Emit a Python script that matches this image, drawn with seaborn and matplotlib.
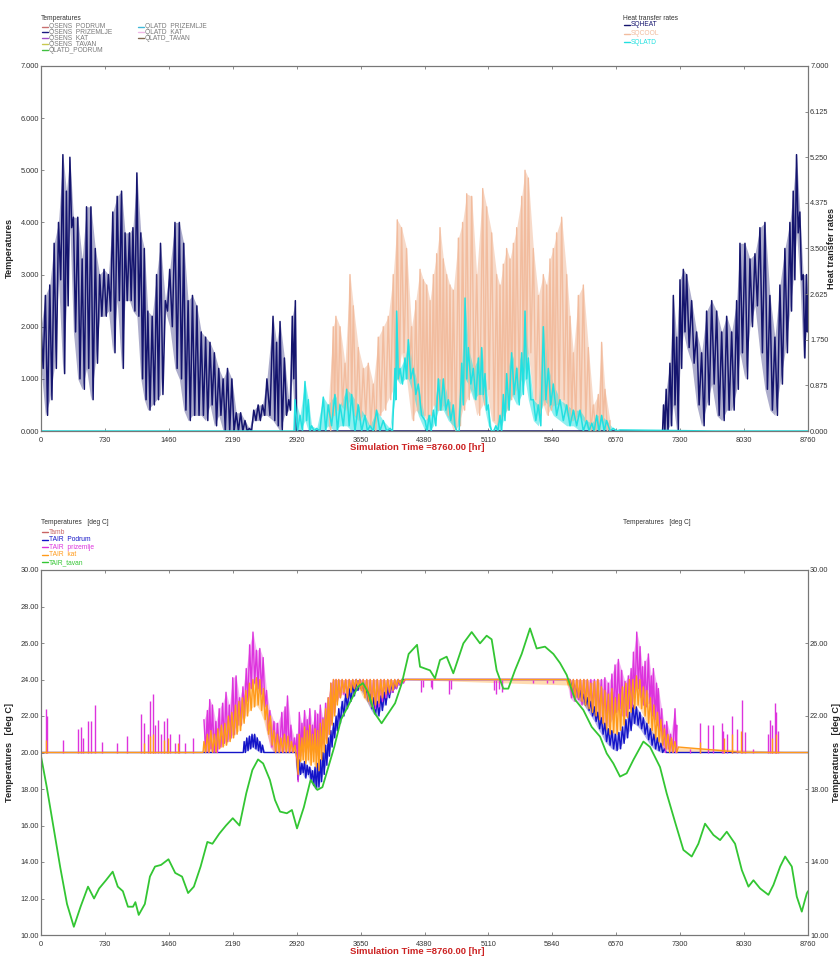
import numpy as np
import matplotlib
matplotlib.use("Agg")
import matplotlib.pyplot as plt
from matplotlib.lines import Line2D
import seaborn as sns

# ------------------------------------------------------------------ data
x_ticks = [0, 730, 1460, 2190, 2920, 3650, 4380, 5110, 5840, 6570, 7300, 8030, 8760]
top_left_ticks = [0, 1, 2, 3, 4, 5, 6, 7]
top_right_ticks = [0, 0.875, 1.75, 2.625, 3.5, 4.375, 5.25, 6.125, 7.0]
bot_left_ticks = [10, 12, 14, 16, 18, 20, 22, 24, 26, 28, 30]
bot_right_ticks = [10, 14, 18, 22, 26, 30]

# SQHEAT: peak hours, peak values, following trough values
heat_h = [0, 50, 100, 150, 200, 250, 290, 330, 370, 420, 470, 520, 570, 620, 670, 720, 770, 820,
          870, 920, 960, 1010, 1050, 1095, 1140, 1180, 1220, 1270, 1320, 1365, 1420, 1470, 1530,
          1580, 1630, 1680, 1730, 1780, 1830, 1880, 1930, 1980, 2030, 2080, 2130, 2180, 2230, 2280,
          2330, 2380, 2430, 2480, 2530, 2580, 2650, 2690, 2730, 2780, 2830, 2870, 2905,
          2930, 7060,
          7088, 7110, 7140, 7183, 7222, 7260, 7298, 7336, 7374, 7431, 7488, 7545, 7602, 7660, 7717,
          7774, 7831, 7888, 7945, 7983, 8040, 8097, 8154, 8211, 8268, 8325, 8382, 8439, 8496, 8553,
          8591, 8629, 8667, 8705, 8743, 8760]
heat_hi = [2.0, 2.6, 2.8, 3.6, 4.0, 5.3, 4.6, 5.25, 4.1, 4.1, 3.3, 4.3, 4.3, 3.5, 3.0, 3.1, 3.0, 4.2,
           4.5, 4.6, 3.8, 3.8, 3.9, 4.95, 3.8, 3.5, 2.3, 2.2, 3.0, 3.6, 2.5, 3.1, 4.0,
           4.0, 3.6, 2.5, 2.6, 2.4, 1.9, 1.8, 1.7, 1.5, 1.2, 1.0, 1.2, 1.0, 0.35, 0.35,
           0.2, 0.05, 0.4, 0.5, 0.5, 1.0, 2.2, 1.7, 2.1, 1.4, 0.6, 2.2, 2.5,
           0.0, 0.0,
           0.0, 0.5, 0.8, 1.3, 2.6, 1.8, 2.9, 3.1, 3.0, 2.5, 1.9, 1.5, 2.3, 2.5, 2.3,
           1.9, 2.2, 1.9, 2.5, 3.6, 3.6, 3.3, 3.4, 3.9, 4.0, 2.6, 1.8, 2.8, 3.5, 4.0,
           4.6, 5.3, 4.2, 3.0, 3.0, 2.6]
heat_lo = [1.2, 0.3, 0.6, 1.2, 2.9, 1.1, 2.4, 3.9, 1.9, 1.0, 0.8, 1.2, 0.6, 1.3, 2.2, 2.2, 2.3, 1.5,
           2.5, 1.2, 2.5, 2.5, 2.3, 2.2, 1.0, 0.6, 0.4, 0.5, 0.6, 0.7, 2.3, 2.0, 1.2,
           1.0, 0.4, 0.2, 0.3, 0.3, 0.3, 0.2, 0.5, 0.1, 0.3, 0.0, 0.0, 0.0, 0.0, 0.0,
           0.0, 0.0, 0.2, 0.2, 0.3, 0.3, 0.2, 0.1, 0.0, 0.3, 0.4, 1.0, 0.0,
           0.0, 0.0,
           0.0, 0.0, 0.0, 0.1, 0.5, 0.0, 1.2, 1.9, 1.6, 1.3, 0.5, 0.1, 0.5, 0.9, 0.3,
           0.2, 0.4, 0.4, 0.8, 1.5, 1.0, 2.0, 2.4, 1.5, 0.8, 0.4, 0.3, 0.9, 1.5, 2.3,
           2.9, 3.8, 2.9, 1.4, 1.9, 2.6]

# SQCOOL
cool_h = [3280, 3338, 3368, 3415, 3472, 3529, 3567, 3624, 3681, 3738, 3795, 3852, 3909, 3966, 4023,
          4069, 4118, 4175, 4232, 4280, 4329, 4367, 4405, 4443, 4481, 4519, 4557, 4595, 4633, 4671,
          4709, 4767, 4815, 4862, 4919, 4976, 5045, 5090, 5147, 5204, 5242, 5280, 5318, 5356, 5395,
          5433, 5490, 5528, 5566, 5623, 5680, 5737, 5775, 5813, 5851, 5889, 5946, 6004, 6042, 6080,
          6137, 6194, 6251, 6308, 6365, 6403, 6441, 6498]
cool_hi = [0.5, 2.0, 2.2, 2.0, 1.3, 3.0, 2.4, 1.6, 1.2, 1.3, 0.9, 1.8, 2.0, 2.2, 3.0,
           4.05, 3.9, 3.5, 2.0, 2.5, 3.1, 2.9, 2.8, 2.5, 3.0, 3.4, 3.9, 3.3, 3.0, 2.8,
           2.7, 3.7, 4.0, 4.55, 4.5, 3.0, 4.65, 4.3, 3.8, 3.0, 2.8, 3.2, 3.5, 3.3, 3.6,
           3.9, 4.5, 5.0, 4.85, 3.5, 2.6, 3.0, 2.8, 3.3, 3.5, 3.8, 4.1, 3.0, 2.2, 1.5,
           2.6, 2.8, 1.6, 0.5, 0.7, 1.7, 0.8, 0.2]
cool_lo = [0.0, 0.3, 0.4, 0.5, 0.4, 0.6, 0.3, 0.2, 0.3, 0.1, 0.0, 0.3, 0.4, 0.6, 0.8,
           1.0, 1.5, 1.0, 0.2, 0.4, 0.3, 0.3, 0.2, 0.3, 0.5, 0.4, 0.4, 0.5, 0.3, 0.2,
           0.0, 0.1, 0.4, 0.6, 0.8, 0.3, 0.5, 0.8, 0.2, 0.1, 0.2, 0.3, 0.4, 0.6, 0.7,
           0.8, 1.0, 1.2, 1.5, 0.6, 0.3, 0.5, 0.3, 0.4, 0.5, 0.5, 0.6, 0.3, 0.2, 0.2,
           0.3, 0.2, 0.0, 0.0, 0.0, 0.2, 0.0, 0.0]

# SQLATD
latd_h = [0, 2880,
          2901, 2958, 3015, 3053, 3091, 3148, 3224, 3280, 3357, 3415, 3491, 3548, 3624, 3700, 3757,
          3833, 3909, 3986, 4043, 4062, 4100, 4157, 4195, 4252, 4309, 4386, 4433, 4481, 4538, 4595,
          4652, 4709, 4747, 4805, 4843, 4881, 4938, 4995, 5033, 5071, 5109, 5147, 5195, 5242, 5280,
          5318, 5375, 5433, 5490, 5528, 5566, 5623, 5680, 5737, 5794, 5851, 5927, 6004, 6080, 6156,
          6232, 6290, 6346, 6403, 6460, 6536, 6613, 8760]
latd_hi = [0.0, 0.0,
           0.6, 0.3, 0.95, 0.6, 0.1, 0.05, 0.65, 0.5, 0.7, 0.5, 0.8, 0.7, 0.5, 0.3, 0.1,
           0.4, 0.2, 0.05, 1.2, 2.3, 1.2, 1.4, 1.75, 1.2, 0.9, 0.2, 0.3, 0.4, 1.0, 1.0,
           0.6, 0.5, 0.0, 1.3, 2.55, 1.6, 1.2, 1.4, 1.6, 1.1, 0.5, 0.0, 0.1, 0.3, 0.7,
           1.1, 1.5, 1.2, 1.5, 2.3, 1.4, 0.6, 0.5, 2.0, 1.2, 0.9, 0.6, 0.5, 0.4, 0.4,
           0.2, 0.15, 0.3, 0.3, 0.2, 0.05, 0.02, 0.0]
latd_lo = [0.0, 0.0,
           0.0, 0.0, 0.2, 0.0, 0.0, 0.0, 0.0, 0.1, 0.0, 0.1, 0.1, 0.0, 0.0, 0.0, 0.0,
           0.0, 0.0, 0.0, 0.6, 1.0, 0.9, 1.0, 1.0, 0.7, 0.3, 0.0, 0.0, 0.1, 0.4, 0.4,
           0.2, 0.1, 0.0, 0.5, 1.0, 0.9, 0.6, 0.7, 0.7, 0.4, 0.1, 0.0, 0.0, 0.0, 0.2,
           0.4, 0.7, 0.5, 0.7, 1.0, 0.6, 0.2, 0.1, 0.6, 0.5, 0.3, 0.2, 0.1, 0.1, 0.0,
           0.0, 0.0, 0.0, 0.0, 0.0, 0.0, 0.0, 0.0]

# TAIR_tavan
tavan_h = [0, 66, 143, 220, 297, 375, 452, 537, 606, 664, 742, 819, 877, 935, 993, 1051, 1078, 1116,
           1186, 1244, 1302, 1371, 1456, 1533, 1611, 1680, 1746, 1823, 1900, 1958, 2036, 2113, 2190,
           2267, 2344, 2414, 2479, 2537, 2614, 2672, 2730, 2808, 2866, 2924, 3002, 3079, 3156, 3214,
           3272, 3349, 3426, 3503, 3619, 3677, 3735, 3812, 3890, 3967, 4044, 4121, 4199, 4295, 4329,
           4443, 4500, 4557, 4633, 4709, 4824, 4919, 5014, 5090, 5147, 5204, 5280, 5337, 5413, 5490,
           5585, 5661, 5756, 5852, 5928, 6004, 6099, 6194, 6290, 6385, 6461, 6537, 6613, 6689, 6766,
           6880, 6956, 7070, 7146, 7241, 7337, 7432, 7508, 7584, 7680, 7756, 7832, 7927, 8004, 8080,
           8137, 8213, 8308, 8365, 8442, 8499, 8575, 8632, 8689, 8746, 8760]
tavan_v = [19.8, 18.1, 15.9, 13.7, 11.7, 10.45, 11.55, 12.65, 12.0, 12.55, 13.0, 13.47, 12.65, 12.4,
           11.55, 11.55, 11.8, 11.1, 11.7, 13.2, 13.75, 13.84, 14.15, 13.4, 13.2, 12.3, 12.65, 13.75,
           15.1, 15.0, 15.55, 16.0, 16.4, 16.0, 17.76, 19.04, 19.62, 19.4, 18.5, 17.4, 16.76, 16.67,
           16.85, 15.84, 17.0, 18.5, 17.95, 18.1, 19.04, 20.3, 21.8, 22.5, 23.6, 23.8, 23.3, 22.15,
           21.6, 22.15, 22.7, 23.8, 25.4, 25.9, 24.7, 24.5, 24.06, 25.07, 25.25, 24.34, 25.98, 26.6,
           25.98, 26.4, 26.2, 24.5, 23.5, 23.5, 24.5, 25.4, 26.8, 25.7, 25.8, 25.4, 24.9, 24.25, 22.9,
           22.33, 21.4, 20.87, 19.95, 19.4, 18.68, 18.86, 19.6, 20.6, 20.3, 19.2, 17.76, 16.2, 14.66,
           14.3, 15.0, 16.1, 15.48, 15.2, 15.66, 15.0, 13.56, 12.65, 13.0, 12.55, 12.2, 12.74, 13.75,
           14.3, 13.75, 12.1, 11.28, 12.28, 12.4]

# TAIR Podrum
podrum_h = [0, 2300, 2320, 2350, 2380, 2410, 2440, 2470, 2500, 2530, 2560, 2910,
            2924, 2950, 2980, 3010, 3040, 3070, 3100, 3130, 3160, 3190, 3220, 3250, 3280, 3310, 3340,
            3370, 3400, 3440, 3480, 3520, 3560, 3600, 3640, 3680, 3720, 3760, 3800, 3840, 3880, 3920,
            3960, 4000, 4040, 4080, 4120, 6004, 6040, 6080, 6120, 6160, 6200, 6240, 6280, 6320, 6360,
            6400, 6440, 6480, 6520, 6560, 6600, 6640, 6680, 6720, 6760, 6800, 6840, 6880, 6920, 6960,
            7000, 7040, 7080, 7120, 7160, 8760]
podrum_hi = [20, 20, 20.6, 20.8, 20.9, 21.0, 21.0, 20.8, 20.6, 20.4, 20, 20,
             19.5, 19.6, 19.4, 19.5, 19.3, 19.2, 19.0, 19.2, 19.4, 19.6, 20.0, 20.4, 20.8, 21.2, 21.6,
             22.0, 22.4, 22.8, 23.2, 23.5, 23.8, 24.0, 24.0, 23.8, 23.5, 23.2, 23.0, 22.8, 23.1, 23.3,
             23.6, 23.8, 23.9, 24.0, 24.0, 24.0, 24.0, 23.8, 23.6, 23.4, 23.2, 23.0, 22.8, 22.5, 22.2,
             21.9, 21.6, 21.3, 21.2, 21.0, 21.1, 21.4, 21.8, 22.2, 22.6, 22.5, 22.2, 21.9, 21.6, 21.3,
             21.0, 20.8, 20.5, 20.2, 20, 20]
podrum_lo = [20, 20, 20.0, 20.1, 20.2, 20.3, 20.2, 20.1, 20.0, 20.0, 20, 20,
             18.5, 18.8, 18.9, 18.6, 18.8, 18.5, 18.2, 18.0, 18.1, 18.4, 18.8, 19.3, 19.8, 20.3, 20.8,
             21.2, 21.6, 22.0, 22.4, 22.8, 23.1, 23.4, 23.5, 23.2, 22.8, 22.4, 22.1, 22.0, 22.3, 22.6,
             23.0, 23.3, 23.5, 23.7, 24.0, 24.0, 23.5, 23.2, 23.0, 22.8, 22.6, 22.3, 22.0, 21.7, 21.3,
             21.0, 20.6, 20.4, 20.2, 20.1, 20.2, 20.5, 20.8, 21.2, 21.6, 21.5, 21.3, 21.0, 20.7, 20.4,
             20.2, 20.1, 20.0, 20.0, 20, 20]

# TAIR prizemlje (dense periods)
priz_h = [1861, 1900, 1927, 1958, 1997, 2035, 2074, 2113, 2151, 2190, 2228, 2267, 2306, 2344, 2383,
          2421, 2460, 2499, 2537, 2576, 2614, 2661, 2700, 2750, 2788, 2815, 2854, 2893,
          2924, 2950, 2980, 3010, 3040, 3070, 3100, 3130, 3160, 3190, 3220, 3250, 3280, 3310, 3340,
          3370, 3400, 3440, 3480, 3520, 3560, 3600, 3640, 3680, 3720, 3760, 3800, 3840, 3880, 3920,
          3960, 4000, 4040, 4080, 4120, 4160, 6004,
          6040, 6080, 6120, 6160, 6200, 6240, 6280, 6320, 6360, 6400, 6440, 6480, 6520, 6556, 6594,
          6632, 6670, 6708, 6740, 6766, 6804, 6842, 6870, 6899, 6937, 6970, 6994, 7030, 7051, 7089,
          7120, 7146, 7190, 7241, 7260]
priz_hi = [21.8, 22.3, 22.9, 22.6, 21.7, 22.4, 22.7, 23.3, 22.6, 24.1, 24.2, 23.0, 23.6, 24.6, 25.9,
           26.6, 25.6, 25.7, 25.2, 23.4, 22.3, 21.7, 21.6, 22.2, 22.5, 23.1, 21.5, 20.8,
           21.0, 22.2, 21.6, 22.3, 21.8, 22.4, 21.5, 22.3, 22.1, 22.6, 21.9, 22.7, 23.0, 23.8, 24.0,
           24.0, 24.0, 24.0, 24.0, 24.0, 24.0, 24.0, 24.0, 24.0, 24.0, 24.0, 24.0, 24.0, 24.0, 24.0,
           24.0, 24.0, 24.0, 24.0, 24.0, 24.0, 24.0,
           24.0, 24.0, 24.0, 24.0, 24.0, 24.0, 24.0, 24.0, 24.0, 24.0, 24.1, 23.8, 24.3, 24.8, 25.1,
           24.5, 23.9, 24.2, 24.6, 25.5, 26.6, 25.8, 24.7, 25.0, 25.4, 24.2, 24.6, 23.8, 23.5, 22.4,
           21.5, 21.7, 21.0, 22.4, 21.5]
priz_lo = [20.0, 20.0, 20.2, 20.0, 20.0, 20.3, 20.5, 20.6, 20.8, 21.0, 21.5, 21.5, 22.0, 22.8, 23.5,
           23.8, 23.5, 23.2, 22.5, 21.2, 20.3, 20.0, 20.0, 20.0, 20.2, 20.0, 20.0, 20.0,
           18.4, 19.8, 20.2, 20.0, 20.3, 19.9, 20.2, 20.0, 19.8, 20.4, 20.5, 20.8, 21.0, 21.6, 22.2,
           22.8, 23.0, 23.2, 23.0, 23.4, 23.5, 23.6, 23.5, 23.3, 23.0, 22.6, 22.4, 22.5, 22.8, 23.0,
           23.2, 23.3, 23.5, 23.7, 23.8, 24.0, 24.0,
           23.0, 22.8, 22.9, 22.6, 22.8, 22.5, 22.4, 22.2, 22.0, 21.8, 21.6, 21.4, 21.8, 22.2, 22.4,
           22.0, 22.0, 22.4, 22.5, 23.0, 23.5, 23.0, 22.6, 22.5, 22.7, 22.0, 21.8, 21.5, 21.2, 20.4,
           20.0, 20.2, 20.0, 20.0, 20.0]
# TAIR prizemlje isolated spikes above 20 and dips below 24
priz_spike_h = [54, 66, 251, 421, 452, 475, 537, 568, 618, 695, 869, 985, 1147, 1178, 1217, 1247,
                1274, 1302, 1332, 1367, 1410, 1444, 1479, 1533, 1572, 1641, 1734, 7412, 7526, 7622,
                7680, 7774, 7793, 7831, 7888, 7945, 8002, 8040, 8135, 8306, 8344, 8382, 8420, 8325,
                8400]
priz_spike_v = [22.4, 22.0, 20.7, 21.3, 21.4, 20.8, 21.7, 21.7, 22.6, 20.6, 20.5, 20.9, 22.1, 21.6,
                21.0, 22.8, 23.2, 21.5, 21.8, 21.0, 21.7, 21.9, 21.0, 20.5, 21.0, 20.5, 20.8, 20.2,
                21.6, 21.5, 21.5, 21.6, 21.2, 21.0, 22.0, 21.3, 22.9, 21.1, 20.2, 21.0, 21.5, 22.7,
                21.2, 21.8, 22.2]
priz_dip_h = [4340, 4360, 4450, 4470, 4660, 4680, 5170, 5200, 5230, 5260, 5620, 5780, 5850]
priz_dip_v = [23.3, 23.6, 23.6, 23.5, 23.2, 23.5, 23.4, 23.2, 23.5, 23.3, 23.8, 23.8, 23.8]

# TAIR kat
kat_h = [0, 1840, 1861, 1900, 1940, 1980, 2020, 2060, 2100, 2140, 2180, 2220, 2260, 2300, 2340,
         2380, 2420, 2460, 2500, 2540, 2580, 2620, 2660, 2700, 2740, 2780, 2820, 2860, 2900,
         2924, 2950, 2980, 3010, 3040, 3070, 3100, 3130, 3160, 3190, 3220, 3250, 3280, 3310, 3340,
         3370, 3400, 3440, 3480, 3520, 3560, 3600, 3640, 3680, 3720, 3760, 3800, 3840, 3880, 3920,
         3960, 4000, 4040, 4080, 4120, 4160,
         6004, 6040, 6080, 6120, 6160, 6200, 6240, 6280, 6320, 6360, 6400, 6440, 6480, 6520, 6560,
         6600, 6640, 6680, 6720, 6760, 6800, 6840, 6880, 6920, 6960, 7000, 7040, 7080, 7120, 7160,
         7200, 7240, 7280, 8760]
kat_hi = [20, 20, 20.6, 21.0, 21.2, 21.0, 21.3, 21.5, 21.6, 22.0, 22.2, 22.6, 22.8, 23.0, 23.4,
          23.8, 24.0, 24.1, 24.0, 23.5, 22.6, 22.0, 21.2, 21.0, 20.8, 21.0, 20.9, 20.6, 20.4,
          19.6, 21.0, 20.8, 21.4, 21.2, 21.5, 21.0, 21.3, 21.2, 21.6, 21.8, 22.4, 23.0, 23.8, 24.0,
          24.0, 24.0, 24.0, 24.0, 24.0, 24.0, 24.0, 24.0, 24.0, 24.0, 24.0, 24.0, 24.0, 24.0, 24.0,
          24.0, 24.0, 24.0, 24.0, 24.0, 24.0,
          24.0, 24.0, 24.0, 24.0, 24.0, 24.0, 24.0, 23.8, 23.9, 24.0, 23.6, 23.4, 23.2, 23.5, 23.0,
          23.2, 23.6, 23.8, 24.0, 24.0, 24.2, 24.0, 23.6, 23.4, 23.0, 22.6, 22.2, 21.8, 21.3, 21.0,
          20.8, 20.6, 20.3, 20]
kat_lo = [20, 20, 20.0, 20.0, 20.0, 20.0, 20.2, 20.3, 20.4, 20.6, 20.8, 21.0, 21.2, 21.6, 22.0,
          22.3, 22.5, 22.6, 22.3, 21.8, 21.0, 20.4, 20.0, 20.0, 20.0, 20.0, 20.0, 20.0, 20.0,
          18.8, 19.5, 19.6, 19.4, 19.6, 19.3, 19.5, 19.2, 19.0, 19.6, 20.0, 20.5, 21.0, 21.5, 22.0,
          22.6, 23.0, 23.3, 23.0, 23.3, 23.5, 23.6, 23.4, 23.0, 22.8, 22.5, 22.6, 22.7, 23.0, 23.2,
          23.3, 23.4, 23.6, 23.8, 23.9, 24.0,
          23.7, 23.4, 23.0, 23.0, 22.8, 22.6, 22.4, 22.2, 22.0, 21.8, 21.6, 21.3, 21.0, 21.1, 21.0,
          21.2, 21.5, 21.9, 22.2, 22.4, 22.6, 22.4, 22.0, 21.6, 21.2, 20.8, 20.6, 20.4, 20.2, 20.0,
          20.0, 20.0, 20.0, 20]
kat_spike_h = [60, 1180, 1250, 1280, 1410, 1445, 1570, 7530, 7800, 7890, 8000, 8350, 8390]
kat_spike_v = [20.7, 20.5, 20.9, 21.0, 20.7, 20.8, 20.5, 20.6, 20.8, 21.0, 21.2, 20.8, 21.0]

# legend texts
top_left_title = "Temperatures"
top_left_col1 = ["QSENS  PODRUM", "QSENS  PRIZEMLJE", "QSENS  KAT", "QSENS  TAVAN", "QLATD_PODRUM"]
top_left_col2 = ["QLATD  PRIZEMLJE", "QLATD  KAT", "QLATD_TAVAN"]
top_right_title = "Heat transfer rates"
top_right_labels = ["SQHEAT", "SQCOOL", "SQLATD"]
bot_left_title = "Temperatures   [deg C]"
bot_left_labels = ["Tamb", "TAIR  Podrum", "TAIR  prizemlje", "TAIR  kat", "TAIR_tavan"]

# ------------------------------------------------------------------ style
sns.set_theme(style="white")
plt.rcParams['font.family'] = ['Liberation Sans', 'DejaVu Sans']

C_HEAT = "#14146e"
C_COOL = "#f2bc9e"
C_LATD = "#22e0e0"
C_PODRUM = "#1414c8"
C_PRIZ = "#dd33dd"
C_KAT = "#ff9a1a"
C_TAVAN = "#33c633"
C_TAMB = "#c86464"
top_left_cols1 = ["#c87070", "#1a1a80", "#a050c8", "#c8c850", "#40c040"]
top_left_cols2 = ["#40b8d8", "#f0b8e8", "#806850"]

W, H = 840, 959
fig = plt.figure(figsize=(W / 100, H / 100), dpi=100)
ax1 = fig.add_axes([41 / W, 1 - 431 / H, 767 / W, 365 / H])
ax3 = fig.add_axes([41 / W, 1 - 935 / H, 767 / W, 365 / H])


def zigzag(h, hi, lo):
    xs, ys = [], []
    n = len(h)
    for i in range(n):
        xs.append(h[i]); ys.append(hi[i])
        nxt = h[i + 1] if i + 1 < n else h[i]
        xs.append(0.5 * (h[i] + nxt)); ys.append(lo[i])
    return np.array(xs, float), np.array(ys, float)


def draw(ax, h, hi, lo, color, lw, band_alpha=0.0):
    if band_alpha > 0:
        ax.fill_between(h, lo, hi, color=color, alpha=band_alpha, lw=0)
    xs, ys = zigzag(h, hi, lo)
    sns.lineplot(x=xs, y=ys, ax=ax, color=color, lw=lw, sort=False, estimator=None)


# ---- top chart
draw(ax1, heat_h, heat_hi, heat_lo, C_HEAT, 1.1, 0.35)
draw(ax1, cool_h, cool_hi, cool_lo, C_COOL, 1.0, 0.55)
draw(ax1, latd_h, latd_hi, latd_lo, C_LATD, 1.1, 0.5)

# ---- bottom chart
draw(ax3, podrum_h, podrum_hi, podrum_lo, C_PODRUM, 1.0, 0.35)
draw(ax3, priz_h, priz_hi, priz_lo, C_PRIZ, 1.0, 0.35)
ax3.vlines(priz_spike_h, 20, priz_spike_v, color=C_PRIZ, lw=1.0)
ax3.vlines(priz_dip_h, 24, priz_dip_v, color=C_PRIZ, lw=1.0)
draw(ax3, kat_h, kat_hi, kat_lo, C_KAT, 1.0, 0.35)
ax3.vlines(kat_spike_h, 20, kat_spike_v, color=C_KAT, lw=1.0)
sns.lineplot(x=tavan_h, y=tavan_v, ax=ax3, color=C_TAVAN, lw=1.3, sort=False, estimator=None)

# ---- axes formatting
TICK_FS = 5.3
TICK_C = "#333333"
SPINE_C = "#777777"

for ax, ylim, yt, fmt in [(ax1, (0, 7), top_left_ticks, "{:.3f}"),
                          (ax3, (10, 30), bot_left_ticks, "{:.2f}")]:
    ax.set_xlim(0, 8760)
    ax.set_ylim(*ylim)
    ax.set_xticks(x_ticks)
    ax.set_xticklabels([str(t) for t in x_ticks], fontsize=TICK_FS, color=TICK_C)
    ax.set_yticks(yt)
    ax.set_yticklabels([fmt.format(v) for v in yt], fontsize=TICK_FS, color=TICK_C)
    ax.tick_params(axis='both', direction='in', length=2.5, width=0.6, color=SPINE_C, pad=1.5,
                   top=True, bottom=True, left=True, right=False)
    ax.tick_params(axis='x', pad=4.0)
    for s in ax.spines.values():
        s.set_color(SPINE_C)
        s.set_linewidth(0.8)
    ax.grid(False)

ax1t = ax1.twinx()
ax1t.set_ylim(0, 7)
ax1t.set_yticks(top_right_ticks)
ax1t.set_yticklabels(["{:.3f}".format(v) for v in top_right_ticks], fontsize=TICK_FS, color=TICK_C)
ax3t = ax3.twinx()
ax3t.set_ylim(10, 30)
ax3t.set_yticks(bot_right_ticks)
ax3t.set_yticklabels(["{:.2f}".format(v) for v in bot_right_ticks], fontsize=TICK_FS, color=TICK_C)
for axt in (ax1t, ax3t):
    axt.tick_params(axis='y', direction='in', length=2.5, width=0.6, color=SPINE_C, pad=1.5)
    for s in axt.spines.values():
        s.set_color(SPINE_C)
        s.set_linewidth(0.8)
    axt.grid(False)

LAB_FS = 6.6
ax1.set_ylabel("Temperatures", fontsize=LAB_FS, fontweight="bold", color="#222222")
ax1.yaxis.set_label_coords(-27 / 767, 0.5)
ax3.set_ylabel("Temperatures   [deg C]", fontsize=LAB_FS, fontweight="bold", color="#222222")
ax3.yaxis.set_label_coords(-27 / 767, 0.5)
ax1t.set_ylabel("Heat transfer rates", fontsize=LAB_FS, fontweight="bold", color="#222222",
                rotation=90)
ax1t.yaxis.set_label_coords(1 + 19 / 767, 0.5)
ax3t.set_ylabel("Temperatures   [deg C]", fontsize=LAB_FS, fontweight="bold", color="#222222",
                rotation=90)
ax3t.yaxis.set_label_coords(1 + 24 / 767, 0.5)

for ax, ypx_bottom, ypx_label in [(ax1, 431, 447), (ax3, 935, 952)]:
    ax.set_xlabel("Simulation Time =8760.00 [hr]", fontsize=6.8, fontweight="bold", color="#cc2222")
    ax.xaxis.set_label_coords(0.49, (ypx_bottom - ypx_label) / 365)
    ax.xaxis.label.set_va("center")

# ---- legends (drawn in pixel positions)
LEG_FS = 4.8


def ftxt(x, y, s, color, **kw):
    fig.text(x / W, 1 - y / H, s, fontsize=LEG_FS, color=color, va="center", ha="left", **kw)


def fdash(x, y, color):
    fig.add_artist(Line2D([x / W, (x + 6) / W], [1 - y / H, 1 - y / H], color=color, lw=1.0))


ftxt(41, 19, top_left_title, "#333333")
for i, (lab, c) in enumerate(zip(top_left_col1, top_left_cols1)):
    y = 26.5 + i * 5.9
    fdash(42, y, c)
    ftxt(49, y, lab, "#7a7a7a")
for i, (lab, c) in enumerate(zip(top_left_col2, top_left_cols2)):
    y = 26.5 + i * 5.9
    fdash(138, y, c)
    ftxt(145, y, lab, "#7a7a7a")

ftxt(623, 19, top_right_title, "#333333")
for i, (lab, c) in enumerate(zip(top_right_labels, [C_HEAT, C_COOL, C_LATD])):
    y = 25 + i * 8.5
    fdash(624, y, c)
    ftxt(631, y, lab, c)

ftxt(41, 523, bot_left_title, "#333333")
for i, (lab, c) in enumerate(zip(bot_left_labels, [C_TAMB, C_PODRUM, C_PRIZ, C_KAT, C_TAVAN])):
    y = 532 + i * 7.6
    fdash(42, y, c)
    ftxt(49, y, lab, c)

ftxt(623, 523, bot_left_title, "#333333")

fig.savefig("out.png", dpi=100)
